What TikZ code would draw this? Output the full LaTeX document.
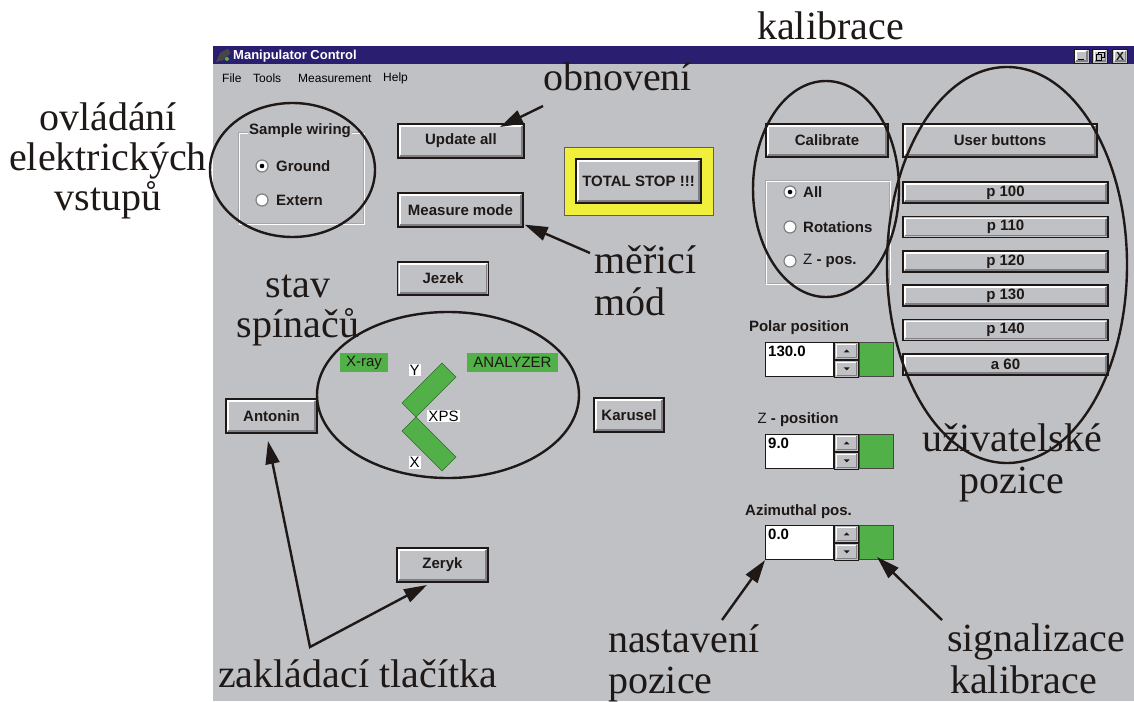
\documentclass[tikz,border=0pt]{standalone}
\usepackage{fontspec}
\setmainfont{Liberation Serif}
\setsansfont{Liberation Sans}
\usetikzlibrary{arrows.meta,calc}

\definecolor{wingray}{RGB}{192,193,197}
\definecolor{titleblue}{RGB}{42,30,112}
\definecolor{stopyellow}{RGB}{240,240,60}
\definecolor{okgreen}{RGB}{82,176,72}
\definecolor{inkblack}{RGB}{30,24,22}
\definecolor{shadowgray}{RGB}{128,128,132}

\newcommand{\uifont}{\sffamily\bfseries\fontsize{15}{17}\selectfont}
\newcommand{\uiregular}{\sffamily\fontsize{15}{17}\selectfont}
\newcommand{\notefont}{\rmfamily\fontsize{40}{42}\selectfont}

% a sunken numeric field with its spinner and status lamp
\newcommand{\spinfield}[3]{%
  \node[field, anchor=north west] (#1) at (765,#2) {};
  \node[anchor=north west, inner sep=0pt, font=\uifont] (#1val) at ([shift={(3pt,-4pt)}]#1.north west) {#3};
  \node[spinbtn, anchor=north west] (#1up) at (#1.north east) {};
  \node[spinbtn, anchor=north west] (#1dn) at (#1up.south west) {};
  \node[lamp, anchor=north west] (#1lamp) at (#1up.north east) {};
  \fill[inkblack] ([shift={(-3pt,-1.5pt)}]#1up.center) -- ([shift={(3pt,-1.5pt)}]#1up.center) -- ([shift={(0pt,1.5pt)}]#1up.center) -- cycle;
  \fill[inkblack] ([shift={(-3pt,1.5pt)}]#1dn.center) -- ([shift={(3pt,1.5pt)}]#1dn.center) -- ([shift={(0pt,-1.5pt)}]#1dn.center) -- cycle;
}

\begin{document}
\begin{tikzpicture}[x=1pt,y=-1pt,
  winbtn/.style={draw=inkblack, line width=1.3pt, fill=wingray, inner sep=0pt,
    font=\uifont, text=inkblack,
    path picture={
      \draw[white, line width=1.6pt]
        ([shift={(2pt,2pt)}]path picture bounding box.south west) |-
        ([shift={(-2pt,-2pt)}]path picture bounding box.north east);
      \draw[shadowgray, line width=1.6pt]
        ([shift={(2pt,2pt)}]path picture bounding box.south west) -|
        ([shift={(-2pt,-2pt)}]path picture bounding box.north east);
    }},
  userbtn/.style={winbtn, minimum width=205pt, minimum height=21pt},
  tbtn/.style={winbtn, line width=0.8pt, minimum width=15pt, minimum height=14pt},
  field/.style={draw=inkblack, line width=1.2pt, fill=white, minimum width=68pt, minimum height=34pt, inner sep=0pt},
  spinbtn/.style={winbtn, line width=0.9pt, minimum width=24pt, minimum height=17pt},
  lamp/.style={draw=inkblack!80, line width=1pt, fill=okgreen, minimum width=34pt, minimum height=34pt, inner sep=0pt},
  radio/.style={circle, draw=shadowgray, line width=1.2pt, fill=white, minimum size=12pt, inner sep=0pt},
  groupframe/.style={draw=shadowgray!70, line width=0.9pt},
  greentag/.style={fill=okgreen, inner sep=0pt, font=\uiregular, text=inkblack},
  whitetag/.style={fill=white, inner sep=1pt, font=\uiregular, text=black},
  note/.style={font=\notefont, text=inkblack, inner sep=0pt},
  ring/.style={draw=inkblack, line width=2.4pt},
  pointer/.style={draw=inkblack, line width=2.4pt, -{Triangle[length=23pt,width=14pt]}},
  menuitem/.style={font=\sffamily\fontsize{12}{14}\selectfont, inner sep=0pt, anchor=west}
]
\useasboundingbox (0,0) rectangle (1134,701);
\fill[white] (0,0) rectangle (1134,701);

% window body and title bar
\fill[wingray] (213,46) rectangle (1134,701);
\fill[titleblue] (213,46) rectangle (1134,64);
\fill[gray!55!black] (216,62) -- (220,53) -- (228,48.5) -- (230.5,53) -- (224,60) -- cycle;
\fill[okgreen] (227,59) circle (2pt);
\node[anchor=west, inner sep=0pt, text=white, font=\sffamily\bfseries\fontsize{13}{15}\selectfont] (title) at (233,56) {Manipulator Control};
\node[tbtn] (minbtn) at (1081.5,56) {};
\draw[black, line width=1.6pt] ([shift={(-3.5pt,-3.5pt)}]minbtn.center) -- ([shift={(2pt,-3.5pt)}]minbtn.center);
\node[tbtn] (maxbtn) at (1100,56) {};
\draw[black, line width=0.9pt] ([shift={(-4pt,-4pt)}]maxbtn.center) rectangle ([shift={(1.5pt,1.5pt)}]maxbtn.center);
\draw[black, line width=0.9pt] ([shift={(-1.5pt,1.5pt)}]maxbtn.center) -- ([shift={(-1.5pt,4pt)}]maxbtn.center) -- ([shift={(4pt,4pt)}]maxbtn.center) -- ([shift={(4pt,-1.5pt)}]maxbtn.center) -- ([shift={(1.5pt,-1.5pt)}]maxbtn.center);
\node[tbtn, font=\sffamily\bfseries\fontsize{12}{12}\selectfont] (closebtn) at (1120,56) {X};

% menu bar
\node[menuitem] (mfile) at (222,78) {File};
\node[menuitem] (mtools) at (253,78) {Tools};
\node[menuitem] (mmeas) at (298,78) {Measurement};
\node[menuitem] (mhelp) at (383,78) {Help};

% sample wiring group
\draw[groupframe] (238,132) rectangle (363,223);
\draw[white, line width=0.9pt] (239.5,133.5) rectangle (364.5,224.5);
\node[fill=wingray, inner sep=1pt, font=\uifont, text=inkblack] (wiring) at (300,131) {Sample wiring};
\node[radio] (rground) at (262,166) {};
\fill[black] (rground) circle (2.3pt);
\node[anchor=west, inner sep=0pt, font=\uifont, text=inkblack] (tground) at (276,166) {Ground};
\node[radio] (rextern) at (262,200) {};
\node[anchor=west, inner sep=0pt, font=\uifont, text=inkblack] (textern) at (276,200) {Extern};

% main buttons
\node[winbtn, minimum width=126pt, minimum height=34pt] (upd) at (461,141) {Update all};
\node[winbtn, minimum width=125pt, minimum height=34pt] (mm) at (460.5,210) {Measure mode};
\node[draw=inkblack!70, line width=1pt, fill=stopyellow, minimum width=149pt, minimum height=68pt, inner sep=0pt] (stopframe) at (638.5,181) {};
\node[winbtn, minimum width=125pt, minimum height=44pt] (stop) at (638.5,181) {TOTAL STOP !!!};
\node[winbtn, minimum width=91pt, minimum height=33pt] (jezek) at (443,278.5) {Jezek};
\node[winbtn, minimum width=91pt, minimum height=34pt] (antonin) at (271.5,416) {Antonin};
\node[winbtn, minimum width=70pt, minimum height=34pt] (karusel) at (629,415) {Karusel};
\node[winbtn, minimum width=91pt, minimum height=34pt] (zeryk) at (442.5,565) {Zeryk};

% switch state sketch
\node[greentag, minimum width=48pt, minimum height=19pt] (xray) at (364,362.5) {X-ray};
\node[greentag, minimum width=91pt, minimum height=19pt] (analyzer) at (512.5,362.5) {ANALYZER};
\fill[okgreen, draw=okgreen!60!black, line width=0.6pt] (402,403) -- (442,363) -- (456,377) -- (416,417) -- cycle;
\fill[okgreen, draw=okgreen!60!black, line width=0.6pt] (402,431) -- (416,417) -- (456,457) -- (442,471) -- cycle;
\node[whitetag] (ylab) at (414.5,370) {Y};
\node[whitetag] (xpslab) at (443.5,416) {XPS};
\node[whitetag] (xlab) at (414.5,462.5) {X};

% calibration
\node[winbtn, minimum width=122pt, minimum height=33pt] (calib) at (827,140.5) {Calibrate};
\node[winbtn, minimum width=194pt, minimum height=33pt] (userb) at (1000,140.5) {User buttons};
\draw[groupframe] (765,180) rectangle (889,283);
\draw[white, line width=0.9pt] (766.5,181.5) rectangle (890.5,284.5);
\node[radio] (rall) at (790,192) {};
\fill[black] (rall) circle (2.3pt);
\node[anchor=west, inner sep=0pt, font=\uifont, text=inkblack] (tall) at (803,192) {All};
\node[radio] (rrot) at (790,227) {};
\node[anchor=west, inner sep=0pt, font=\uifont, text=inkblack] (trot) at (803,227) {Rotations};
\node[radio] (rzpos) at (790,261) {};
\node[anchor=west, inner sep=0pt, font=\uifont, text=inkblack] (tzpos) at (803,261) {{\mdseries Z} - pos.};

% user position buttons
\node[userbtn] (p100) at (1005.5,192.5) {p 100};
\node[userbtn] (p110) at (1005.5,227) {p 110};
\node[userbtn] (p120) at (1005.5,261.5) {p 120};
\node[userbtn] (p130) at (1005.5,295.5) {p 130};
\node[userbtn] (p140) at (1005.5,330) {p 140};
\node[userbtn] (a60) at (1005.5,364.5) {a 60};

% position fields
\node[inner sep=0pt, font=\uifont, text=inkblack] (polarlab) at (799,328) {Polar position};
\spinfield{polar}{342}{130.0}
\node[inner sep=0pt, font=\uifont, text=inkblack] (zlab) at (798,420) {{\mdseries Z} - position};
\spinfield{zpos}{434}{9.0}
\node[inner sep=0pt, font=\uifont, text=inkblack] (azlab) at (798.5,512) {Azimuthal pos.};
\spinfield{azim}{525}{0.0}

% highlighted groups
\draw[ring] (292.5,170) ellipse [x radius=82.5pt, y radius=67pt];
\draw[ring] (448,395) ellipse [x radius=131pt, y radius=83pt];
\draw[ring] (826,189) ellipse [x radius=73pt, y radius=108pt];
\draw[ring] (1007,265) ellipse [x radius=120pt, y radius=198pt];

% annotations
\node[note, anchor=base] (n1a) at (108,130) {ovládání};
\node[note, anchor=base] (n1b) at (108,170) {elektrických};
\node[note, anchor=base] (n1c) at (108,210) {vstupů};
\node[note, anchor=base west] (nobn) at (543,90) {obnovení};
\node[note, anchor=base west] (nkal) at (757,40) {kalibrace};
\node[note, anchor=base] (nstav) at (298,297) {stav};
\node[note, anchor=base] (nspin) at (298,337) {spínačů};
\node[note, anchor=base west] (nmer) at (594,273) {měřicí};
\node[note, anchor=base west] (nmod) at (594,315) {mód};
\node[note, anchor=base] (nuziv) at (1012,451) {uživatelské};
\node[note, anchor=base] (npoz) at (1012,493) {pozice};
\node[note, anchor=base west] (nzakl) at (218,687) {zakládací tlačítka};
\node[note, anchor=base west] (nnast) at (608,652) {nastavení};
\node[note, anchor=base west] (nnpoz) at (608,693) {pozice};
\node[note, anchor=base west] (nsig) at (947,651) {signalizace};
\node[note, anchor=base west] (nskal) at (950,693) {kalibrace};

% pointers
\coordinate (obnFrom) at (543,106);
\coordinate (obnTo) at (500,127);
\coordinate (merFrom) at (590,253);
\coordinate (antTo) at (268,441);
\coordinate (fork) at (310,647);
\coordinate (zerTo) at (427,585);
\coordinate (nastFrom) at (722,620);
\coordinate (sigFrom) at (942,620);
\coordinate (sigTo) at (877,557);
\draw[pointer] (obnFrom) -- (obnTo);
\draw[pointer] (merFrom) -- ([shift={(1pt,3pt)}]mm.south east);
\draw[pointer, {Triangle[length=23pt,width=14pt]}-{Triangle[length=23pt,width=14pt]}] (antTo) -- (fork) -- (zerTo);
\draw[pointer] (nastFrom) -- (azim.south west);
\draw[pointer] (sigFrom) -- (sigTo);
\end{tikzpicture}
\end{document}
